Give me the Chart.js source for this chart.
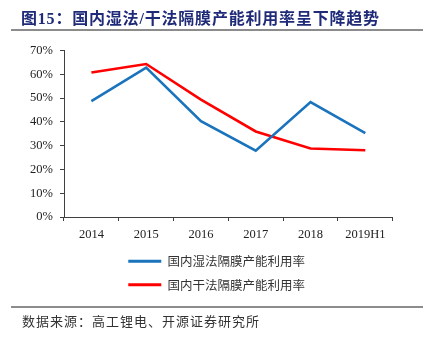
<!DOCTYPE html>
<html>
<head>
<meta charset="utf-8">
<script src="https://cdn.jsdelivr.net/npm/chart.js@4"></script>
<style>
  html, body { margin: 0; padding: 0; background: #fff; }
  #wrap { position: relative; width: 435px; height: 342px; overflow: hidden; }
  #chartBox { position: absolute; left: 0; top: 0; width: 435px; height: 342px; }
  #title { position: absolute; left: 21px; top: 6px; font: bold 16px "Liberation Serif", "Noto Sans CJK SC", serif; color: #1f2a78; letter-spacing: 0.8px; white-space: nowrap; line-height: 22px; }
  #title .cjk { font-family: "Noto Sans CJK SC", sans-serif; }
  .rule { position: absolute; left: 11px; width: 412px; height: 2px; background: #8c8c8c; }
  #source { position: absolute; left: 22px; top: 312px; font: 13px "Noto Sans CJK SC", sans-serif; color: #333; letter-spacing: 1px; white-space: nowrap; line-height: 18px; }
</style>
</head>
<body>
<div id="wrap">
  <div id="chartBox"><canvas id="c" width="435" height="342"></canvas></div>
  <div id="title"><span class="cjk">图</span>15<span class="cjk">：国内湿法</span>/<span class="cjk">干法隔膜产能利用率呈下降趋势</span></div>
  <div class="rule" style="top:29px"></div>
  <div class="rule" style="top:306px"></div>
  <div id="source">数据来源：高工锂电、开源证券研究所</div>
</div>
<script>
const categories = ["2014", "2015", "2016", "2017", "2018", "2019H1"];
const wetRate = [48.8, 62.9, 40.3, 27.9, 48.4, 35.3];
const dryRate = [60.8, 64.4, 49.4, 36.0, 28.8, 28.1];
const seriesNames = ["国内湿法隔膜产能利用率", "国内干法隔膜产能利用率"];
const yTicks = [0, 10, 20, 30, 40, 50, 60, 70];

const axisColor = "#404040";
const tickFont = { family: "Liberation Serif", size: 12.5 };

const legendShift = {
  id: "legendShift",
  afterLayout(chart) {
    const lg = chart.legend;
    if (lg) { lg.left -= 11.7; lg.right -= 11.7; }
  }
};

new Chart(document.getElementById("c"), {
  type: "line",
  data: {
    labels: categories,
    datasets: [
      { label: seriesNames[0], data: wetRate, borderColor: "#1a73bd", backgroundColor: "#1a73bd", borderWidth: 2.6, pointRadius: 0, tension: 0 },
      { label: seriesNames[1], data: dryRate, borderColor: "#ff0000", backgroundColor: "#ff0000", borderWidth: 2.6, pointRadius: 0, tension: 0 }
    ]
  },
  options: {
    responsive: false,
    animation: false,
    layout: { padding: { left: 0, right: 42.3, top: 50.7, bottom: 41 } },
    plugins: {
      title: { display: false },
      tooltip: { enabled: false },
      legend: {
        position: "bottom",
        fullSize: false,
        labels: {
          font: { family: "Noto Sans CJK SC", size: 12.5 },
          color: "#333",
          boxWidth: 33,
          boxHeight: 3,
          padding: 11,
          generateLabels: (chart) => Chart.defaults.plugins.legend.labels.generateLabels(chart)
            .map(l => Object.assign(l, { fillStyle: l.strokeStyle, lineWidth: 0 }))
        }
      }
    },
    scales: {
      x: {
        offset: true,
        grid: { offset: true, drawOnChartArea: false, drawTicks: true, tickLength: 4, color: axisColor },
        border: { color: axisColor, width: 1 },
        ticks: { font: tickFont, color: "#222", padding: 6, maxRotation: 0 },
        afterFit(s) { s.height = 27; }
      },
      y: {
        min: yTicks[0],
        max: yTicks[yTicks.length - 1],
        grid: { drawOnChartArea: false, drawTicks: true, tickLength: 4, color: axisColor },
        border: { color: axisColor, width: 1 },
        afterBuildTicks(s) { s.ticks = yTicks.map(v => ({ value: v })); },
        ticks: { font: tickFont, color: "#222", padding: 7, callback: v => v + "%" },
        afterFit(s) { s.width = 64; }
      }
    }
  },
  plugins: [legendShift]
});
</script>
</body>
</html>
